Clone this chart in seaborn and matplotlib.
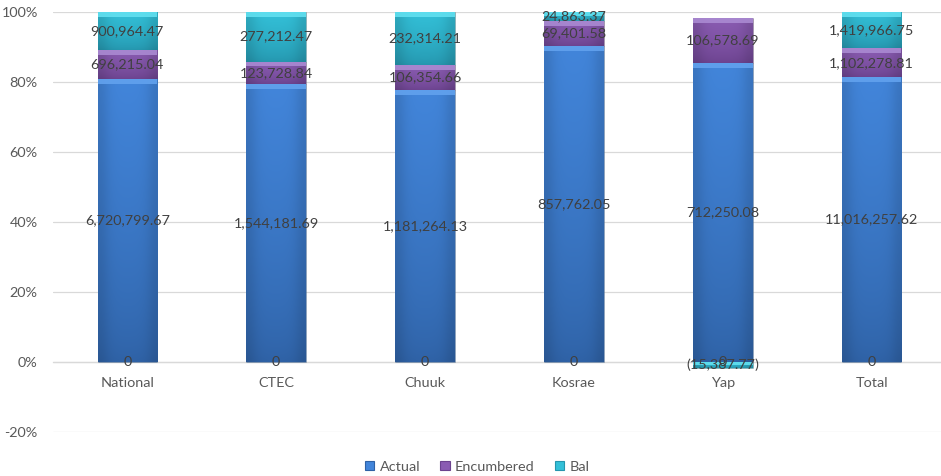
import numpy as np
import pandas as pd
import matplotlib
matplotlib.use("Agg")
import matplotlib.pyplot as plt
import matplotlib.colors as mcolors
from matplotlib.patches import Patch, Rectangle
import seaborn as sns

categories = ["National", "CTEC", "Chuuk", "Kosrae", "Yap", "Total"]
actual = [6720799.67, 1544181.69, 1181264.13, 857762.05, 712250.08, 11016257.62]
encumbered = [696215.04, 123728.84, 106354.66, 69401.58, 106578.69, 1102278.81]
bal = [900964.47, 277212.47, 232314.21, 24863.37, -15387.77, 1419966.75]
zero_series = [0, 0, 0, 0, 0, 0]
series_names = ["Actual", "Encumbered", "Bal"]
y_ticks = [-0.2, 0.0, 0.2, 0.4, 0.6, 0.8, 1.0]

sns.set_theme(style="white")
plt.rcParams["font.family"] = ["Lato", "DejaVu Sans"]

series = [np.array(actual), np.array(encumbered), np.array(bal)]
abs_total = sum(np.abs(s) for s in series)
pct = [s / abs_total for s in series]

# colours: (top, bottom, bevel)
cols = [("#4285DA", "#2F62A6", "#62A2EE"),
        ("#8A5CB2", "#6C438F", "#AA8AD2"),
        ("#33C0D8", "#2596AE", "#62E0F0")]

fig = plt.figure(figsize=(9.41, 4.76), dpi=100)
ax = fig.add_axes([53 / 941, 0.0931, 893 / 941, 0.9754 - 0.0931])

pos_base = np.zeros(len(categories))
neg_base = np.zeros(len(categories))
segments = []
for k, (name, p) in enumerate(zip(series_names, pct)):
    bottoms = np.where(p >= 0, pos_base, neg_base)
    df = pd.DataFrame({"cat": categories, "pct": p})
    n_before = len(ax.patches)
    sns.barplot(data=df, x="cat", y="pct", order=categories, color=cols[k][0],
                width=0.40, bottom=bottoms, errorbar=None, ax=ax,
                linewidth=0.6, edgecolor="#3a3a3a40", zorder=3)
    bars = ax.patches[n_before:]
    segments.append((k, bars, bottoms, p))
    pos_base = pos_base + np.where(p >= 0, p, 0)
    neg_base = neg_base + np.where(p < 0, p, 0)

ax.set_xlim(-0.5, 5.5)
ax.set_ylim(-0.2, 1.0)

# gradient + bevel effect
for k, bars, bottoms, p in segments:
    top_c, bot_c, bev_c = cols[k]
    cmap = mcolors.LinearSegmentedColormap.from_list("g%d" % k, [bot_c, top_c])
    for bar in bars:
        x0 = bar.get_x(); w = bar.get_width()
        y0 = bar.get_y(); h = bar.get_height()
        ylo, yhi = min(y0, y0 + h), max(y0, y0 + h)
        grad = np.linspace(0, 1, 64).reshape(-1, 1) ** 0.7
        grad = np.repeat(grad, 8, axis=1)
        edge = np.abs(np.linspace(-1, 1, 8))
        img = cmap(grad)
        img[..., :3] *= (1 - 0.12 * edge ** 4)[None, :, None]
        im = ax.imshow(img, extent=[x0, x0 + w, ylo, yhi], origin="lower",
                       aspect="auto", zorder=3.1, interpolation="bicubic")
        im.set_clip_path(bar)
        bev_h = min(0.014, (yhi - ylo) * 0.5)
        bev = Rectangle((x0, yhi - bev_h), w, bev_h, facecolor=bev_c,
                        edgecolor="none", zorder=3.2, alpha=0.9)
        ax.add_patch(bev)
        bev.set_clip_path(bar)

ax.set_xlim(-0.5, 5.5)
ax.set_ylim(-0.2, 1.0)


def fmt(v):
    if v == 0:
        return "0"
    s = f"{abs(v):,.2f}"
    return f"({s})" if v < 0 else s


label_color = "#404040"
for k, bars, bottoms, p in segments:
    vals = series[k]
    for i, bar in enumerate(bars):
        yc = bar.get_y() + bar.get_height() / 2
        ax.text(bar.get_x() + bar.get_width() / 2, yc, fmt(vals[i]),
                ha="center", va="center", fontsize=10.4, color=label_color, zorder=5)
for i, v in enumerate(zero_series):
    ax.text(i, 0, fmt(v), ha="center", va="center", fontsize=10.4,
            color=label_color, zorder=5)

ax.set_yticks(y_ticks)
ax.set_yticklabels([f"{t:.0%}" for t in y_ticks])
ax.yaxis.grid(True, color="#D9D9D9", linewidth=0.9, zorder=0)
ax.set_axisbelow(True)
for s in ["top", "right", "left"]:
    ax.spines[s].set_visible(False)
ax.spines["bottom"].set_position(("data", 0))
ax.spines["bottom"].set_color("#D9D9D9")
ax.spines["bottom"].set_linewidth(0.9)
ax.spines["bottom"].set_zorder(2)
ax.tick_params(axis="y", length=0, pad=11, labelsize=10.4, labelcolor="#595959")
ax.tick_params(axis="x", length=0, pad=11, labelsize=10.4, labelcolor="#595959")
ax.set_xlabel("")
ax.set_ylabel("")

handles = [Patch(facecolor=cols[k][0], edgecolor=cols[k][1], linewidth=0.8)
           for k in range(3)]
fig.legend(handles, series_names, loc="lower center", bbox_to_anchor=(0.507, -0.02),
           ncol=3, frameon=False, fontsize=10.4, handlelength=0.65, handleheight=0.65,
           handletextpad=0.35, columnspacing=1.4, labelcolor="#595959")

fig.savefig("out.png", dpi=100)
